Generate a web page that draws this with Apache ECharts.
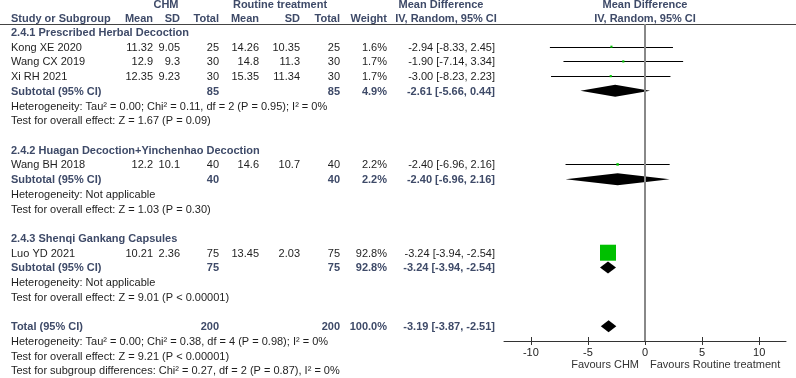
<!DOCTYPE html>
<html><head><meta charset="utf-8">
<script src="https://cdn.jsdelivr.net/npm/echarts@6/dist/echarts.min.js"></script>
<style>html,body{margin:0;padding:0;background:#fff}#c{width:796px;height:378px}</style>
</head><body><div id="c"></div>
<script>
// ---- data ----
const studyNames = ['Kong XE 2020','Wang CX 2019','Xi RH 2021','Wang BH 2018','Luo YD 2021'];
const studyRows  = [1,2,3,9,15];
const chmMean = ['11.32','12.9','12.35','12.2','10.21'];
const chmSD   = ['9.05','9.3','9.23','10.1','2.36'];
const chmN    = ['25','30','30','40','75'];
const rtMean  = ['14.26','14.8','15.35','14.6','13.45'];
const rtSD    = ['10.35','11.3','11.34','10.7','2.03'];
const rtN     = ['25','30','30','40','75'];
const weights = [1.6,1.7,1.7,2.2,92.8];
const md      = [-2.94,-1.90,-3.00,-2.40,-3.24];
const mdLo    = [-8.33,-7.14,-8.23,-6.96,-3.94];
const mdHi    = [2.45,3.34,2.23,2.16,-2.54];

const sumLabels = ['Subtotal (95% CI)','Subtotal (95% CI)','Subtotal (95% CI)','Total (95% CI)'];
const sumRows = [4,10,16,20];
const sumChmN = ['85','40','75','200'];
const sumRtN  = ['85','40','75','200'];
const sumW    = ['4.9%','2.2%','92.8%','100.0%'];
const sumMd   = [-2.61,-2.40,-3.24,-3.19];
const sumLo   = [-5.66,-6.96,-3.94,-3.87];
const sumHi   = [0.44,2.16,-2.54,-2.51];

const groupTitles = ['2.4.1 Prescribed Herbal Decoction','2.4.2 Huagan Decoction+Yinchenhao Decoction','2.4.3 Shenqi Gankang Capsules'];
const groupRows = [0,8,14];

const noteTexts = [
 'Heterogeneity: Tau\u00b2 = 0.00; Chi\u00b2 = 0.11, df = 2 (P = 0.95); I\u00b2 = 0%',
 'Test for overall effect: Z = 1.67 (P = 0.09)',
 'Heterogeneity: Not applicable',
 'Test for overall effect: Z = 1.03 (P = 0.30)',
 'Heterogeneity: Not applicable',
 'Test for overall effect: Z = 9.01 (P < 0.00001)',
 'Heterogeneity: Tau\u00b2 = 0.00; Chi\u00b2 = 0.38, df = 4 (P = 0.98); I\u00b2 = 0%',
 'Test for overall effect: Z = 9.21 (P < 0.00001)',
 'Test for subgroup differences: Chi\u00b2 = 0.27, df = 2 (P = 0.87), I\u00b2 = 0%'
];
const noteRows = [5,6,11,12,17,18,21,22,23];

const xTicks = [-10,-5,0,5,10];

// ---- layout helpers ----
const FONT = '11px "Liberation Sans", Arial, sans-serif';
const BFONT = 'bold 11px "Liberation Sans", Arial, sans-serif';
const BLUE = '#3e4a68';
const INK = '#1e1e1e';
function rowY(r){ return 32 + 14.716*r + 1; }
function fmt(v){ return v.toFixed(2); }
function ci(e,l,h){ return fmt(e)+' ['+fmt(l)+', '+fmt(h)+']'; }

const g = [];
function txt(t,x,y,align,bold,color){
  g.push({type:'text', silent:true, style:{text:t, x:x, y:y, align:align, verticalAlign:'middle',
    font: bold?BFONT:FONT, fill: color || (bold?BLUE:INK)}});
}
// headers
txt('CHM',166,5,'center',true);
txt('Routine treatment',280,5,'center',true);
txt('Mean Difference',441,5,'center',true);
txt('Mean Difference',645,5,'center',true);
const hy = 19;
txt('Study or Subgroup',11,hy,'left',true);
txt('Mean',153,hy,'right',true);
txt('SD',180,hy,'right',true);
txt('Total',219,hy,'right',true);
txt('Mean',259,hy,'right',true);
txt('SD',300,hy,'right',true);
txt('Total',340,hy,'right',true);
txt('Weight',387,hy,'right',true);
txt('IV, Random, 95% CI',446,hy,'center',true);
txt('IV, Random, 95% CI',645,hy,'center',true);
g.push({type:'line', silent:true, shape:{x1:0,y1:24.5,x2:796,y2:24.5}, style:{stroke:'#444',lineWidth:1}});

groupTitles.forEach((t,i)=>txt(t,11,rowY(groupRows[i]),'left',true));
studyNames.forEach((n,i)=>{
  const y = rowY(studyRows[i]);
  txt(n,11,y,'left',false);
  txt(chmMean[i],153,y,'right',false);
  txt(chmSD[i],180,y,'right',false);
  txt(chmN[i],219,y,'right',false);
  txt(rtMean[i],259,y,'right',false);
  txt(rtSD[i],300,y,'right',false);
  txt(rtN[i],340,y,'right',false);
  txt(weights[i].toFixed(1)+'%',387,y,'right',false);
  txt(ci(md[i],mdLo[i],mdHi[i]),495,y,'right',false);
});
sumLabels.forEach((n,i)=>{
  const y = rowY(sumRows[i]);
  txt(n,11,y,'left',true);
  txt(sumChmN[i],219,y,'right',true);
  txt(sumRtN[i],340,y,'right',true);
  txt(sumW[i],387,y,'right',true);
  txt(ci(sumMd[i],sumLo[i],sumHi[i]),495,y,'right',true);
});
noteTexts.forEach((t,i)=>txt(t,11,rowY(noteRows[i]),'left',false));
txt('Favours CHM',639,365,'right',false,'#333');
txt('Favours Routine treatment',650,365,'left',false,'#333');

const studyData = md.map((v,i)=>[v,mdLo[i],mdHi[i],studyRows[i],weights[i]]);
const sumData = sumMd.map((v,i)=>[v,sumLo[i],sumHi[i],sumRows[i]]);

const chart = echarts.init(document.getElementById('c'), null, {renderer:'canvas'});
chart.setOption({
  animation:false,
  grid:{left:504, width:282, top:24, height:317, containLabel:false},
  xAxis:[{
    type:'value', min:-12.35, max:12.35, position:'bottom',
    axisLine:{show:true, onZero:false, lineStyle:{color:'#333', width:1}},
    axisTick:{show:true, length:4, customValues:xTicks, lineStyle:{color:'#333'}},
    axisLabel:{customValues:xTicks, color:'#222', fontSize:11, margin:6, fontFamily:'Liberation Sans'},
    splitLine:{show:false}
  },{
    type:'value', min:-12.35, max:12.35, position:'bottom', gridIndex:0,
    axisLine:{show:false, onZero:false},
    axisTick:{show:true, inside:true, length:4, customValues:xTicks, lineStyle:{color:'#333'}},
    axisLabel:{show:false}, splitLine:{show:false}
  }],
  yAxis:{type:'value', inverse:true, min:-0.5436, max:21, show:false, splitLine:{show:false}},
  graphic:g,
  series:[{
    type:'custom', name:'studies', data:studyData, encode:{x:[0,1,2], y:3},
    renderItem:function(params, api){
      const r = api.value(3);
      const p1 = api.coord([api.value(1), r]);
      const p2 = api.coord([api.value(2), r]);
      const c = api.coord([api.value(0), r]);
      const s = Math.max(2, 16*Math.sqrt(api.value(4)/92.8));
      return {type:'group', children:[
        {type:'line', shape:{x1:p1[0],y1:Math.round(c[1])+0.5,x2:p2[0],y2:Math.round(c[1])+0.5}, style:{stroke:'#000',lineWidth:1}},
        {type:'rect', shape:{x:c[0]-s/2, y:c[1]-s/2, width:s, height:s}, style:{fill:'#00c000'}}
      ]};
    },
    markLine:{silent:true, symbol:'none', animation:false, label:{show:false},
      lineStyle:{color:'#888', width:2, type:'solid'}, data:[{xAxis:0}]}
  },{
    type:'custom', name:'pooled', data:sumData, encode:{x:[0,1,2], y:3},
    renderItem:function(params, api){
      const r = api.value(3);
      const l = api.coord([api.value(1), r]);
      const h = api.coord([api.value(2), r]);
      const c = api.coord([api.value(0), r]);
      const hh = 6;
      return {type:'polygon', shape:{points:[[l[0],c[1]],[c[0],c[1]-hh],[h[0],c[1]],[c[0],c[1]+hh]]}, style:{fill:'#000'}};
    }
  }]
});
</script></body></html>
